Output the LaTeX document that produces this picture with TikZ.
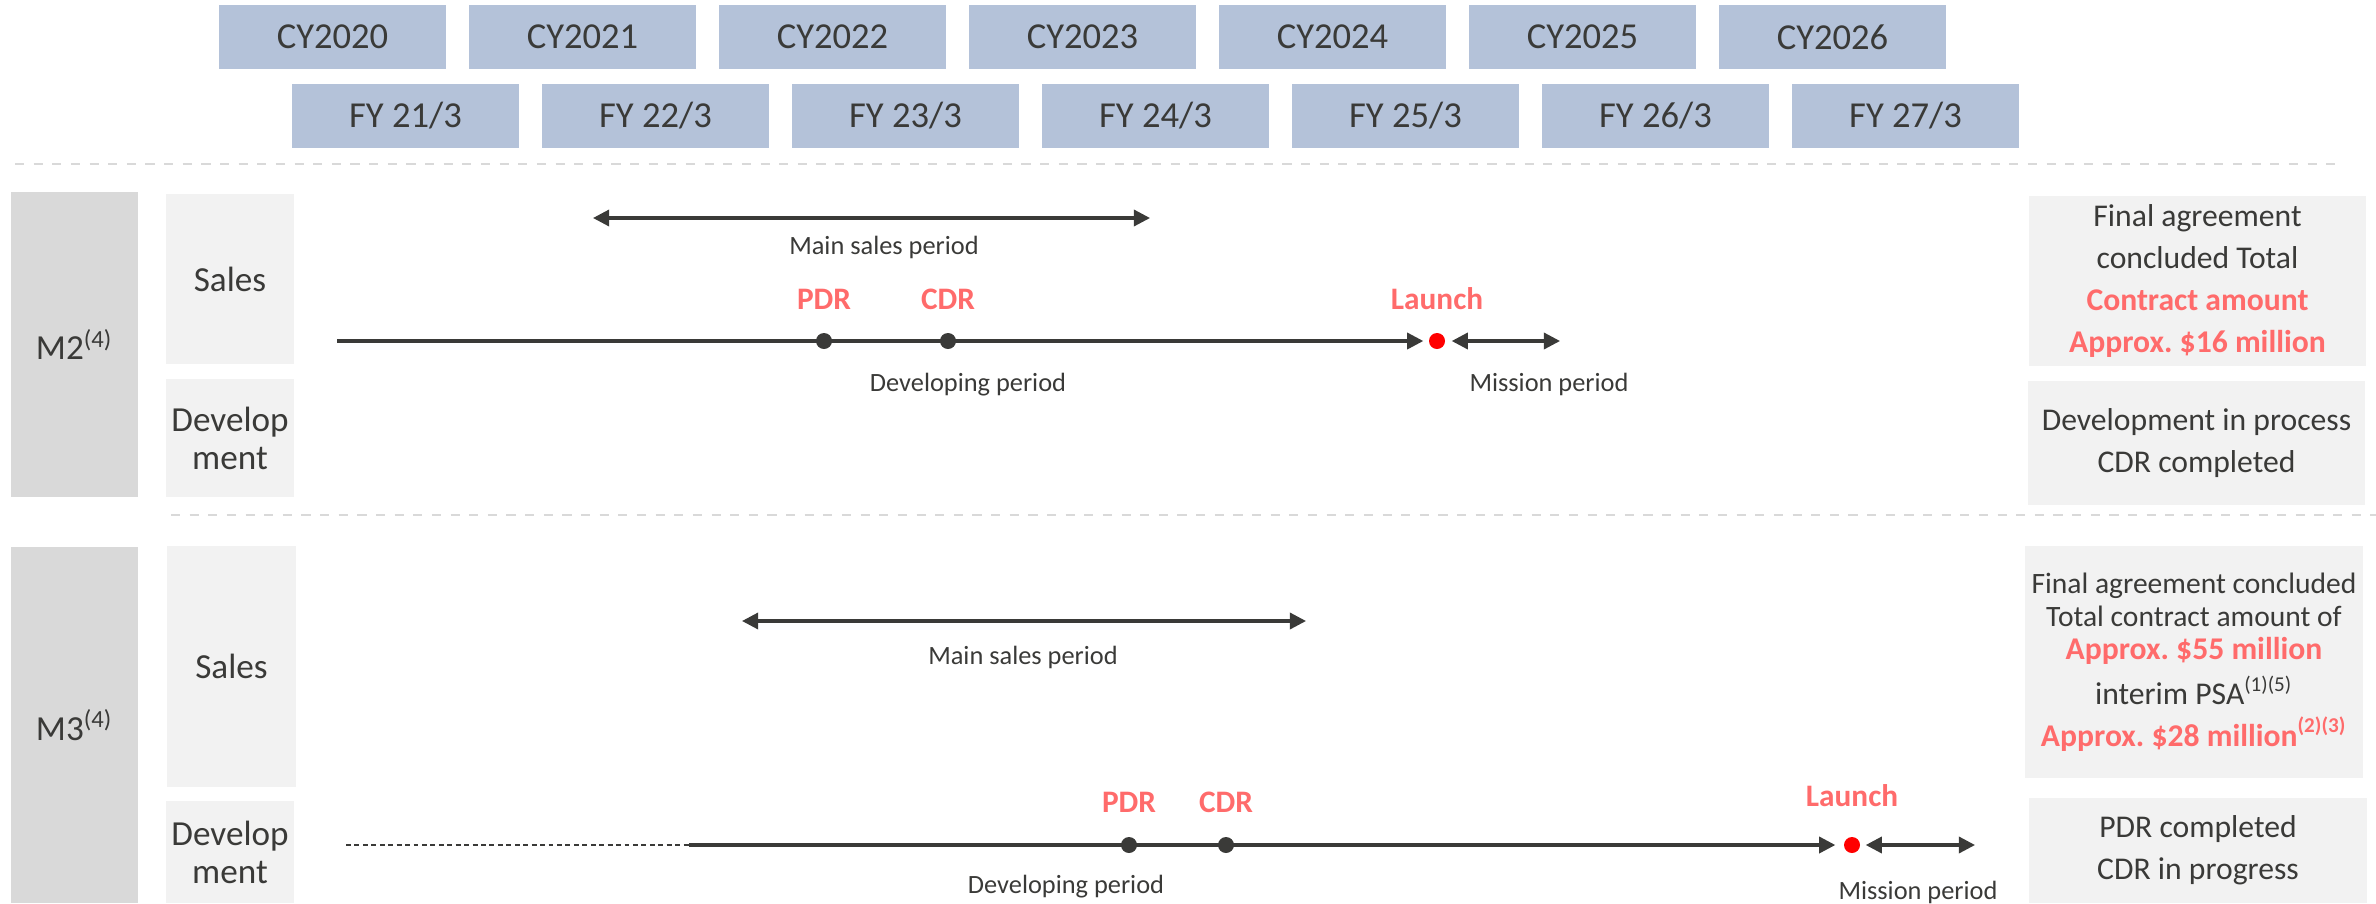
\documentclass[tikz,border=0pt]{standalone}
\usepackage{fontspec}
\setmainfont{Carlito}
\usetikzlibrary{arrows.meta,positioning}

\definecolor{hdrblue}{HTML}{B4C2D9}
\definecolor{txtdark}{HTML}{3A3A38}
\definecolor{redtxt}{HTML}{FF6B6B}
\definecolor{launchred}{HTML}{FF0000}
\definecolor{boxgray}{HTML}{F2F2F2}
\definecolor{mgray}{HTML}{D9D9D9}

\tikzset{
  >={Triangle[length=4.6pt,width=4.6pt]},   % 全局箭头
  yearbox/.style={fill=hdrblue, text=txtdark, minimum width=2.27cm, minimum height=0.64cm,
    inner sep=0pt, font=\fontsize{10.4}{12}\selectfont},
  mbox/.style={fill=mgray, text=txtdark, minimum width=1.27cm, inner sep=0pt,
    font=\fontsize{10}{12}\selectfont},
  rowbox/.style={fill=boxgray, text=txtdark, minimum width=1.28cm, inner sep=0pt,
    align=center, font=\fontsize{10}{10.8}\selectfont},
  infobox/.style={fill=boxgray, text=txtdark, minimum width=3.37cm, inner sep=0pt,
    align=center, font=\fontsize{9}{12}\selectfont},
  period/.style={text=txtdark, inner sep=0pt, font=\fontsize{7.5}{9}\selectfont},
  milestone/.style={text=redtxt, inner sep=0pt, font=\bfseries\fontsize{8.9}{10}\selectfont},
  devdot/.style={circle, fill=txtdark, minimum size=0.16cm, inner sep=0pt},
  launchdot/.style={circle, fill=launchred, minimum size=0.16cm, inner sep=0pt},
  tline/.style={txtdark, line width=0.9pt},
  sepline/.style={mgray, line width=0.75pt, dash pattern=on 2.6pt off 2.7pt},
}

\begin{document}
\begin{tikzpicture}[x=0.01cm, y=-0.01cm]
\useasboundingbox (0,0) rectangle (2376,903);

%==================== 年份表头 ====================
\foreach \i in {0,...,6}{
  \pgfmathtruncatemacro{\yr}{2020+\i}
  \pgfmathtruncatemacro{\fy}{21+\i}
  \node[yearbox] (cy\yr) at (332.5+250*\i, 37) {CY\yr};
  \node[yearbox] (fy\fy) at (405.5+250*\i, 116) {FY \fy/3};
}

% 分隔虚线
\draw[sepline] (15,164) -- (2341,164);
\draw[sepline] (171,515) -- (2376,515);

%==================== M2 ====================
\node[mbox, minimum height=3.05cm] (m2) at (74.5,344.5) {M2\textsuperscript{(4)}};
\node[rowbox, minimum height=1.70cm] (m2sales) at (230,279) {Sales};
\node[rowbox, minimum height=1.18cm] (m2dev) at (230,438) {Develop\\ment};

% 销售期
\coordinate (m2s0) at (593,218);
\coordinate (m2s1) at (1150,218);
\draw[tline, <->] (m2s0) -- (m2s1);
\node[period] (m2speriod) at (884,247) {Main sales period};

% 开发时间线
\coordinate (m2t0) at (337,341);
\coordinate (m2m1) at (1560,341);
\node[launchdot] (m2launch) at (1437,341) {};
\draw[tline, ->, shorten >=0.05cm] (m2t0) -- (m2launch);
\draw[tline, <->, shorten <=0.06cm] (m2launch) -- (m2m1);
\node[devdot] (m2pdr) at (824,341) {};
\node[devdot] (m2cdr) at (948,341) {};
\node[milestone, above=0.22cm of m2pdr] (m2pdrl) {PDR};
\node[milestone, above=0.22cm of m2cdr] (m2cdrl) {CDR};
\node[milestone, above=0.22cm of m2launch] (m2launchl) {Launch};
\node[period] (m2dperiod) at (968,385) {Developing period};
\node[period] (m2mperiod) at (1549,384) {Mission period};

% 右侧说明
\node[infobox, minimum height=1.70cm] (m2sinfo) at (2197.5,281)
  {Final agreement\\concluded Total\\
   \textcolor{redtxt}{\textbf{Contract amount}}\\
   \textcolor{redtxt}{\textbf{Approx.\ \$16 million}}};
\node[infobox, minimum height=1.24cm] (m2dinfo) at (2196.5,443)
  {Development in process\\CDR completed};

%==================== M3 ====================
\node[mbox, minimum height=3.56cm] (m3) at (74.5,725) {M3\textsuperscript{(4)}};
\node[rowbox, minimum height=2.41cm] (m3sales) at (231.5,666.5) {Sales};
\node[rowbox, minimum height=1.02cm] (m3dev) at (230,852) {Develop\\ment};

% 销售期
\coordinate (m3s0) at (742,621);
\coordinate (m3s1) at (1306,621);
\draw[tline, <->] (m3s0) -- (m3s1);
\node[period] (m3speriod) at (1023,657) {Main sales period};

% 开发时间线（前段虚线）
\coordinate (m3t0) at (346,845);
\coordinate (m3t1) at (689,845);
\coordinate (m3m1) at (1975,845);
\node[launchdot] (m3launch) at (1852,845) {};
\draw[txtdark, line width=0.4pt, dash pattern=on 1.4pt off 1pt] (m3t0) -- (m3t1);
\draw[tline, ->, shorten >=0.08cm] (m3t1) -- (m3launch);
\draw[tline, <->, shorten <=0.05cm] (m3launch) -- (m3m1);
\node[devdot] (m3pdr) at (1129,845) {};
\node[devdot] (m3cdr) at (1226,845) {};
\node[milestone, above=0.23cm of m3pdr] (m3pdrl) {PDR};
\node[milestone, above=0.23cm of m3cdr] (m3cdrl) {CDR};
\node[milestone, above=0.29cm of m3launch] (m3launchl) {Launch};
\node[period] (m3dperiod) at (1066,887) {Developing period};
\node[period] (m3mperiod) at (1918,892) {Mission period};

% 右侧说明
\node[infobox, minimum height=2.32cm, font=\fontsize{9}{9.4}\selectfont] (m3sinfo) at (2194,662)
  {{\fontsize{8.4}{9.4}\selectfont Final agreement concluded}\\
   {\fontsize{8.4}{9.4}\selectfont Total contract amount of}\\
   \textcolor{redtxt}{\textbf{Approx.\ \$55 million}}\\[2.2pt]
   interim PSA\textsuperscript{(1)(5)}\\[2.4pt]
   \textcolor{redtxt}{\textbf{Approx.\ \$28 million\textsuperscript{(2)(3)}}}};
\node[infobox, minimum height=1.05cm] (m3dinfo) at (2198,850.5)
  {PDR completed\\CDR in progress};

\end{tikzpicture}
\end{document}
